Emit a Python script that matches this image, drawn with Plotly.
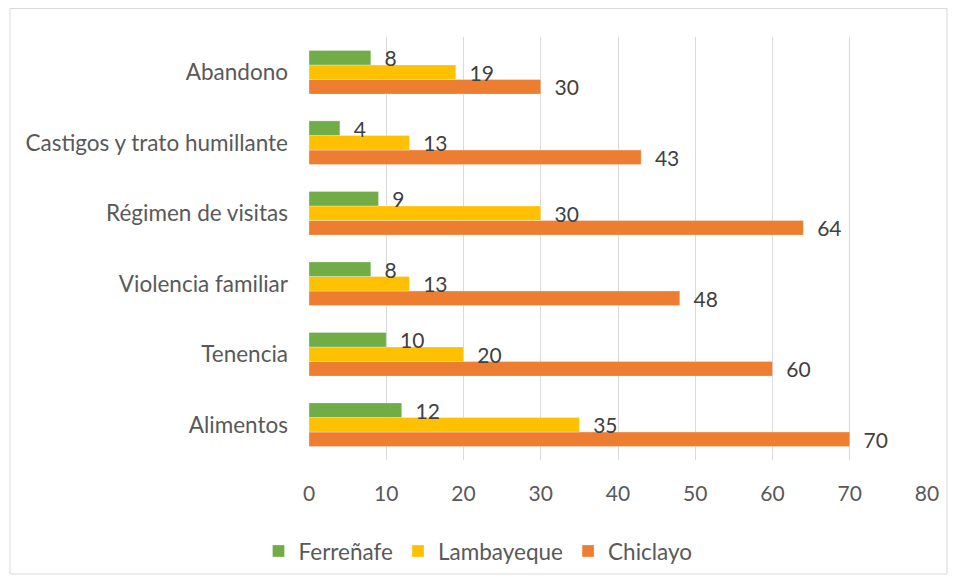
import plotly.graph_objects as go

categories = ["Alimentos", "Tenencia", "Violencia familiar", "Régimen de visitas",
              "Castigos y trato humillante", "Abandono"]
ferrenafe = [12, 10, 8, 9, 4, 8]
lambayeque = [35, 20, 13, 30, 13, 19]
chiclayo = [70, 60, 48, 64, 43, 30]
x_ticks = [0, 10, 20, 30, 40, 50, 60, 70, 80]

FONT = "Lato, Carlito, Calibri, sans-serif"
SZ = 21
SZT = 22.5
fig = go.Figure()
series = [("Chiclayo", chiclayo, "#ED7D31"),
          ("Lambayeque", lambayeque, "#FFC000"),
          ("Ferreñafe", ferrenafe, "#70AD47")]
for name, vals, col in series:
    fig.add_trace(go.Bar(
        y=categories, x=vals, name=name, orientation="h",
        marker=dict(color=col, line=dict(color="rgba(255,255,255,0.6)", width=0.5)),
        text=vals, texttemplate="\u00a0\u00a0%{x}", textposition="outside",
        textfont=dict(family=FONT, size=SZ, color="#404040"),
        cliponaxis=False,
    ))

fig.update_layout(
    width=940, height=567,
    barmode="group", bargap=0.38, bargroupgap=0,
    uniformtext=dict(minsize=SZ, mode="show"),
    plot_bgcolor="white", paper_bgcolor="white",
    margin=dict(l=301, r=21, t=29, b=115, autoexpand=False),
    font=dict(family=FONT, size=SZ, color="#595959"),
    xaxis=dict(range=[0, 80], tickvals=x_ticks, showgrid=True, gridcolor="#D9D9D9",
               gridwidth=1, zeroline=False, showline=False, ticks="",
               ticklabelstandoff=19,
               tickfont=dict(size=SZ, color="#595959")),
    yaxis=dict(categoryorder="array", categoryarray=categories, showgrid=False,
               showline=False, ticks="", ticklabelstandoff=20,
               tickfont=dict(size=SZT, color="#595959")),
    legend=dict(orientation="h", x=(478 - 309) / 618, xanchor="center", y=-0.165, yanchor="top",
                traceorder="reversed", font=dict(size=SZT, color="#595959"),
                itemwidth=30),
    showlegend=True,
    shapes=[dict(type="rect", xref="paper", yref="paper",
                 x0=-299/618, x1=1+20/618, y0=-114/423, y1=1+28.5/423,
                 line=dict(color="#D9D9D9", width=1), fillcolor="rgba(0,0,0,0)", layer="below")],
)
fig.write_html("out.html")
